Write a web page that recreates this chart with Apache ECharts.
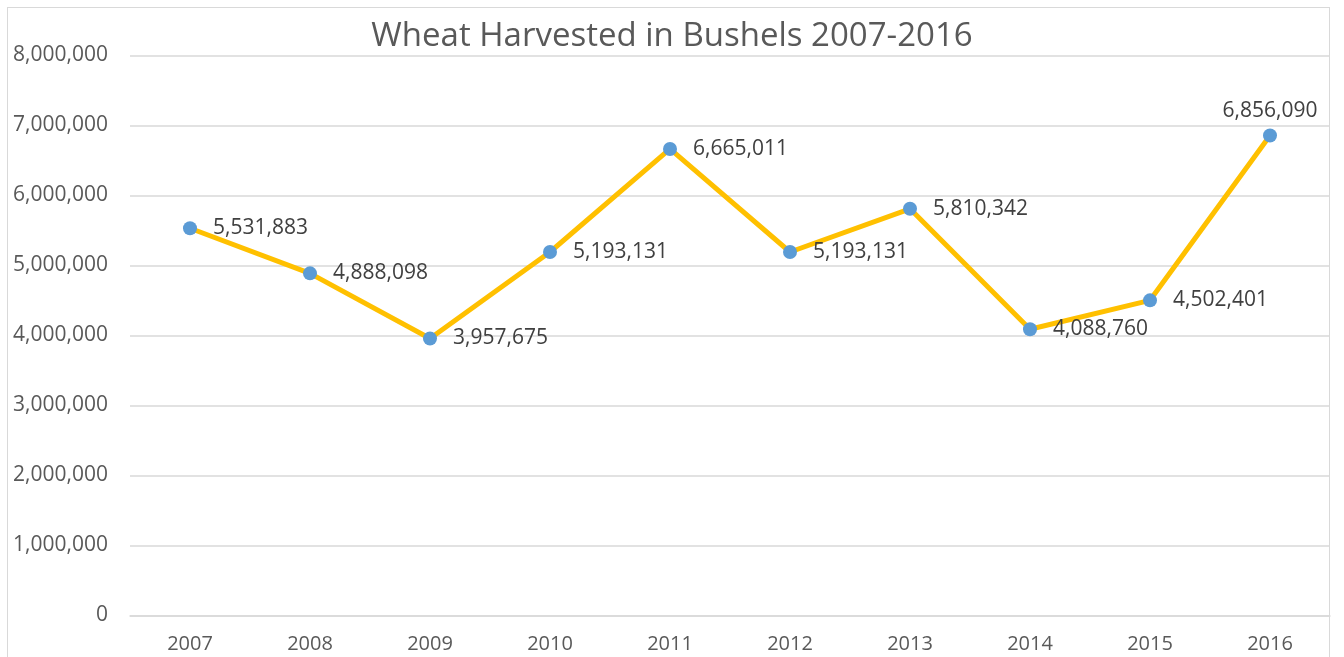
<!DOCTYPE html>
<html>
<head>
<meta charset="utf-8">
<script src="https://cdn.jsdelivr.net/npm/echarts@6/dist/echarts.min.js"></script>
<style>
  html, body { margin: 0; padding: 0; background: #fff; overflow: hidden; }
  .frame { position: absolute; left: 7px; top: 7px; width: 1323px; height: 680px; border: 1px solid #d9d9d9; box-sizing: border-box; }
  .main { position: absolute; left: 0; top: 0; width: 1344px; height: 657px; }
</style>
</head>
<body>
<div class="frame"></div>
<div class="main"></div>
<script>
// data
var years = ['2007', '2008', '2009', '2010', '2011', '2012', '2013', '2014', '2015', '2016'];
var bushels = [5531883, 4888098, 3957675, 5193131, 6665011, 5193131, 5810342, 4088760, 4502401, 6856090];
var labelSide = ['right', 'right', 'right', 'right', 'right', 'right', 'right', 'right', 'right', 'top'];

var myChart = echarts.init(document.querySelector('.main'));

function fmt(v) {
  return Number(v).toLocaleString('en-US');
}

var points = bushels.map(function (v, i) {
  return {
    value: v,
    label: { position: labelSide[i], distance: labelSide[i] === 'top' ? 7 : 16 }
  };
});

var option = {
  backgroundColor: 'transparent',
  title: {
    text: 'Wheat Harvested in Bushels 2007-2016',
    left: 'center',
    top: 15,
    textStyle: { fontFamily: 'Open Sans', fontSize: 33, fontWeight: 'normal', color: '#595959' }
  },
  grid: { left: 130, right: 14, top: 55.5, bottom: 41.5 },
  xAxis: {
    type: 'category',
    data: years,
    boundaryGap: true,
    axisLine: { lineStyle: { color: '#d9d9d9', width: 1.5 } },
    axisTick: { show: false },
    axisLabel: { fontFamily: 'Open Sans', fontSize: 20, color: '#595959', margin: 19 }
  },
  yAxis: {
    type: 'value',
    min: 0,
    max: 8000000,
    interval: 1000000,
    axisLine: { show: false },
    axisTick: { show: false },
    splitLine: { lineStyle: { color: '#d9d9d9', width: 1.5 } },
    axisLabel: { fontFamily: 'Open Sans', fontSize: 21, color: '#595959', margin: 22, formatter: fmt }
  },
  series: [{
    type: 'line',
    data: points,
    symbol: 'circle',
    symbolSize: 14,
    lineStyle: { color: '#ffc000', width: 5 },
    itemStyle: { color: '#5b9bd5' },
    label: {
      show: true,
      fontFamily: 'Open Sans',
      fontSize: 21,
      color: '#404040',
      formatter: function (p) { return fmt(p.value); }
    },
    animation: false
  }]
};

myChart.setOption(option);
</script>
</body>
</html>
